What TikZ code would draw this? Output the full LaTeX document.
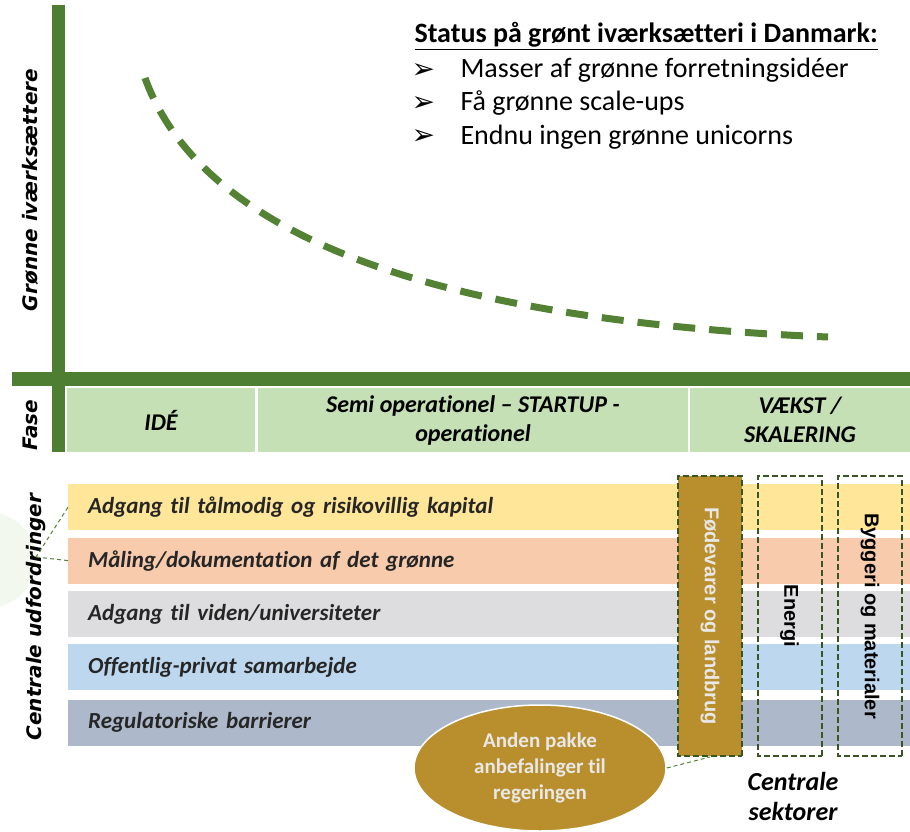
\documentclass[tikz,border=0pt]{standalone}
\usepackage{fontspec}
\setmainfont{Carlito}[Ligatures=NoCommon]
\newfontfamily\verdfont{DejaVu Sans}
\newfontfamily\arialfont{Liberation Sans}
\usetikzlibrary{positioning,shapes.geometric}
\definecolor{axisgreen}{HTML}{4E7E32}
\definecolor{curvegreen}{HTML}{548235}
\definecolor{phasegreen}{HTML}{C5E0B4}
\definecolor{sectorgreen}{HTML}{375623}
\definecolor{gold}{HTML}{B98F2D}
\definecolor{paletext}{HTML}{E8E8E8}
\definecolor{rowyellow}{HTML}{FFE699}
\definecolor{roworange}{HTML}{F8CBAD}
\definecolor{rowgrey}{HTML}{DDDDDF}
\definecolor{rowblue}{HTML}{BDD7EE}
\definecolor{rowslate}{HTML}{ADB9CA}
\definecolor{haze}{HTML}{F2F8EE}
\begin{document}
\begin{tikzpicture}[
    x=1pt, y=-1pt,
    phase/.style={
		rectangle,
		fill=phasegreen,
		draw=white,
		line width=1.5pt,
		minimum height=66pt,
		inner sep=0pt,
		align=center,
		font=\fontsize{24}{29}\selectfont\bfseries\itshape
	},
	challenge/.style={
		rectangle,
		minimum width=842pt,
		minimum height=46pt,
		text width=802pt,
		inner xsep=20pt,
		align=left,
		text=black!85,
		font=\fontsize{23}{26}\selectfont\bfseries\itshape
	},
	sector/.style={
		rectangle,
		rotate=-90,
		draw=sectorgreen,
		dash pattern=on 6pt off 3pt,
		line width=2pt,
		minimum width=280pt,
		minimum height=64pt,
		font=\arialfont\fontsize{20}{22}\selectfont\bfseries
	},
	axislabel/.style={
		rotate=90,
		font=\verdfont\fontsize{20}{24}\selectfont\bfseries\itshape
	},
	bullet/.style={
		anchor=base west,
		font=\fontsize{28}{32}\selectfont
	},
	arrowmark/.style={
		anchor=base west,
		font=\verdfont\fontsize{28}{30}\selectfont
	}
  ]
  \useasboundingbox (0,0) rectangle (910,832);

  % axes
  \draw [axisgreen, line width=13pt] (58,5) -- (58,452);
  \draw [axisgreen, line width=14pt] (12,379) -- (910,379);

  % the dashed curve
  \draw [curvegreen, line width=7pt, dash pattern=on 22pt off 14pt]
    (145,78) .. controls (200,230) and (420,320) .. (828,337);

  % status text
  \node [anchor=base west, font=\fontsize{28}{32}\selectfont\bfseries] (status) at (411,43)
    {\underline{Status på grønt iværksætteri i Danmark:}};
  \node [arrowmark] (arrow1) at (408,79) {➢};
  \node [bullet] (idea) at (457,78) {Masser af grønne forretningsidéer};
  \node [arrowmark] (arrow2) at (408,112) {➢};
  \node [bullet] (scale) at (457,111) {Få grønne scale-ups};
  \node [arrowmark] (arrow3) at (408,145) {➢};
  \node [bullet] (unicorn) at (457,144) {Endnu ingen grønne unicorns};

  % phases
  \node [phase, minimum width=190pt] (ide) at (161,420) {IDÉ};
  \node [phase, minimum width=432pt] (startup) at (473,420) {Semi operationel – STARTUP -\\operationel};
  \node [phase, minimum width=222pt] (vaekst) at (800,420) {VÆKST /\\SKALERING};

  % left labels
  \fill [haze] (-12,560) circle (48pt);
  \node [axislabel] (groenne) at (30,190) {Grønne iværksættere};
  \node [axislabel] (fase) at (30,425) {Fase};
  \node [axislabel] (udfordringer) at (36,617) {Centrale udfordringer};

  % challenges
  \node [challenge, fill=rowyellow, anchor=north west] (row1) at (68,484) {Adgang til tålmodig og risikovillig kapital};
  \node [challenge, fill=roworange, below=7pt of row1] (row2) {Måling/dokumentation af det grønne};
  \node [challenge, fill=rowgrey, below=7pt of row2] (row3) {Adgang til viden/universiteter};
  \node [challenge, fill=rowblue, below=7pt of row3] (row4) {Offentlig-privat samarbejde};
  \node [challenge, fill=rowslate, below=9pt of row4] (row5) {Regulatoriske barrierer};

  \coordinate (hub) at (36,557);
  \draw [curvegreen, line width=1pt, dash pattern=on 4pt off 3pt] (row1.west) -- (hub);
  \draw [curvegreen, line width=1pt, dash pattern=on 4pt off 3pt] (row2.west) -- (hub);

  % sectors
  \node [sector, fill=gold, text=paletext] (food) at (710,616) {Fødevarer og landbrug};
  \node [sector] (energy) at (789.5,616) {Energi};
  \node [sector] (building) at (870,616) {Byggeri og materialer};
  \node [font=\fontsize{26}{30}\selectfont\bfseries\itshape, align=center] (sektorer) at (793,796) {Centrale\\sektorer};

  % recommendation
  \node [ellipse, fill=gold, draw=white, line width=1.5pt, minimum width=252pt, minimum height=126pt,
    text=paletext, align=center, font=\fontsize{21}{26}\selectfont\bfseries] (pakke) at (540,768)
    {Anden pakke\\anbefalinger til\\regeringen};
  \draw [curvegreen, line width=1pt, dash pattern=on 4pt off 3pt] (pakke.east) -- (food.east);

\end{tikzpicture}
\end{document}
